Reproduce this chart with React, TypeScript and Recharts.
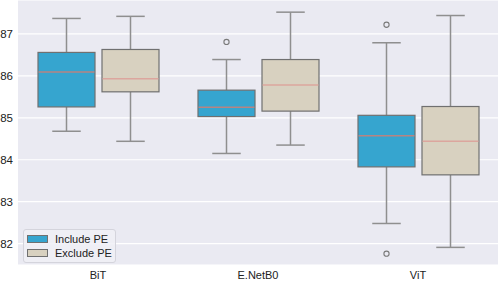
import React from 'react';
import { ComposedChart, Bar, XAxis, YAxis, CartesianGrid } from 'recharts';

const categories = ['BiT', 'E.NetB0', 'ViT'];

// Include PE
const incLow = [84.68, 84.15, 82.48];
const incQ1 = [85.26, 85.03, 83.83];
const incMed = [86.09, 85.25, 84.57];
const incQ3 = [86.56, 85.66, 85.06];
const incHigh = [87.37, 86.39, 86.79];
const incOutliers = [[], [86.81], [87.22, 81.76]];

// Exclude PE
const excLow = [84.44, 84.35, 81.91];
const excQ1 = [85.62, 85.16, 83.64];
const excMed = [85.93, 85.78, 84.44];
const excQ3 = [86.63, 86.39, 85.27];
const excHigh = [87.42, 87.52, 87.44];
const excOutliers = [[], [], []];

const yTicks = [82, 83, 84, 85, 86, 87];

const INC_COLOR = '#36A5CF';
const EXC_COLOR = '#D8D1C0';
const FONT = '"Liberation Sans", Arial, sans-serif';

const data = categories.map((name, i) => ({
  name,
  inc: { low: incLow[i], q1: incQ1[i], med: incMed[i], q3: incQ3[i], high: incHigh[i], out: incOutliers[i] },
  exc: { low: excLow[i], q1: excQ1[i], med: excMed[i], q3: excQ3[i], high: excHigh[i], out: excOutliers[i] },
}));

const makeBox = (key: 'inc' | 'exc', fill: string, medColor: string) => (props: any) => {
  const { x, y, width, height, payload } = props;
  const s = payload[key];
  const k = height / (s.high - s.low);
  const py = (v: number) => y + (s.high - v) * k;
  const cx = x + width / 2;
  const cap = width / 4;
  const whisker = '#8f8f8f';
  return (
    <g>
      <line x1={cx} x2={cx} y1={py(s.high)} y2={py(s.q3)} stroke={whisker} strokeWidth={1.5} />
      <line x1={cx} x2={cx} y1={py(s.q1)} y2={py(s.low)} stroke={whisker} strokeWidth={1.5} />
      <line x1={cx - cap} x2={cx + cap} y1={py(s.high)} y2={py(s.high)} stroke={whisker} strokeWidth={1.5} />
      <line x1={cx - cap} x2={cx + cap} y1={py(s.low)} y2={py(s.low)} stroke={whisker} strokeWidth={1.5} />
      <rect x={x} y={py(s.q3)} width={width} height={py(s.q1) - py(s.q3)} fill={fill} stroke="#707070" strokeWidth={1.2} />
      <line x1={x + 0.6} x2={x + width - 0.6} y1={py(s.med)} y2={py(s.med)} stroke={medColor} strokeWidth={1.5} />
      {s.out.map((v: number, j: number) => (
        <circle key={j} cx={cx} cy={py(v)} r={2.6} fill="none" stroke="#7a7a7a" strokeWidth={1.1} />
      ))}
    </g>
  );
};

const LegendBox = () => (
  <div
    style={{
      position: 'absolute',
      left: 23,
      top: 229,
      height: 30,
      border: '1px solid #d4d4dc',
      background: 'rgba(240,240,246,0.85)',
      borderRadius: 3,
      fontFamily: FONT,
      fontSize: 11,
      color: '#222',
      lineHeight: '14px',
      paddingTop: 2,
      paddingRight: 3,
      whiteSpace: 'nowrap',
      boxSizing: 'content-box',
    }}
  >
    {[
      ['Include PE', INC_COLOR],
      ['Exclude PE', EXC_COLOR],
    ].map(([label, c]) => (
      <div key={label} style={{ display: 'flex', alignItems: 'center', paddingLeft: 3 }}>
        <span style={{ display: 'inline-block', width: 19, height: 6, background: c, border: '1px solid #707070', marginRight: 7 }} />
        {label}
      </div>
    ))}
  </div>
);

export default function App() {
  return (
    <div style={{ position: 'absolute', left: 0, top: 0, width: 498, height: 282, background: '#fff' }}>
      <ComposedChart
        width={498}
        height={282}
        data={data}
        margin={{ top: 0, right: 0, left: 0, bottom: 0 }}
        barSize={57}
        barGap={7}
      >
        <CartesianGrid fill="#EAEAF2" stroke="#ffffff" strokeWidth={1.2} vertical={false} />
        <XAxis
          dataKey="name"
          axisLine={false}
          tickLine={false}
          height={17}
          tick={{ fontSize: 11, fill: '#222', fontFamily: FONT }}
          tickSize={3}
          tickMargin={3}
        />
        <YAxis
          type="number"
          domain={[81.49, 87.81]}
          ticks={yTicks}
          axisLine={false}
          tickLine={false}
          width={18}
          tick={{ fontSize: 11.5, fill: '#222', fontFamily: FONT }}
          tickSize={5}
          tickMargin={0}
        />
        <Bar
          dataKey={(d: any) => [d.inc.low, d.inc.high]}
          name="Include PE"
          fill={INC_COLOR}
          shape={makeBox('inc', INC_COLOR, '#b88482')}
          isAnimationActive={false}
        />
        <Bar
          dataKey={(d: any) => [d.exc.low, d.exc.high]}
          name="Exclude PE"
          fill={EXC_COLOR}
          shape={makeBox('exc', EXC_COLOR, '#dca69e')}
          isAnimationActive={false}
        />
      </ComposedChart>
      <LegendBox />
    </div>
  );
}
